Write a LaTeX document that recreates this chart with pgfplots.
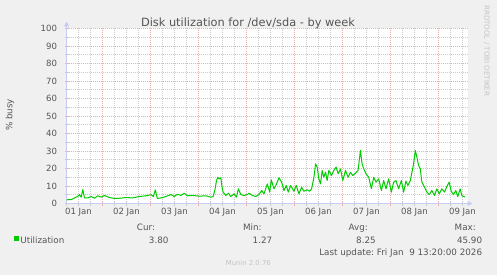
\documentclass[border=0pt]{standalone}
\usepackage{pgfplots}
\pgfplotsset{compat=1.18}
\usepackage{fontspec}
\setmainfont{DejaVu Sans}
\usetikzlibrary{arrows.meta}
\definecolor{bgcol}{HTML}{F0F0F0}
\definecolor{txt}{HTML}{555555}
\definecolor{light}{HTML}{C4C4C4}
\definecolor{mgrid}{HTML}{EDB0B0}
\definecolor{mingrid}{HTML}{CCCCCC}
\definecolor{axiscol}{HTML}{C8CCF0}
\definecolor{util}{HTML}{00CC00}
\begin{document}
\begin{tikzpicture}[x=1bp,y=1bp]
\fill[bgcol] (0,0) rectangle (497,275);
\begin{axis}[
  at={(66.5bp,71.5bp)}, anchor=south west,
  scale only axis, width=401bp, height=175bp,
  xmin=6, xmax=206.5, ymin=0, ymax=100,
  axis background/.style={fill=white},
  axis x line*=bottom, axis y line*=left,
  axis line style={draw=axiscol, line width=0.9bp},
  x axis line style={-{Triangle[length=5bp,width=5bp]}, shorten >=-5bp},
  y axis line style={-{Triangle[length=5bp,width=5bp]}, shorten >=-7bp},
  ytick={0,10,...,100},
  minor ytick={5,15,...,95},
  xtick={24,48,...,192},
  xticklabels={{},{},{},{},{},{},{},{}},
  minor xtick={6,12,18,30,36,42,54,60,66,78,84,90,102,108,114,126,132,138,150,156,162,174,180,186,198,204},
  extra x ticks={12,36,60,84,108,132,156,180,204},
  extra x tick labels={01 Jan,02 Jan,03 Jan,04 Jan,05 Jan,06 Jan,07 Jan,08 Jan,09 Jan},
  extra x tick style={grid=none, major tick length=0pt},
  grid=both,
  major grid style={draw=mgrid, line width=0.7bp, dash pattern=on 1bp off 1bp},
  minor grid style={draw=mingrid, line width=0.7bp, dash pattern=on 1bp off 1bp},
  major tick length=4bp, minor tick length=4bp, tick align=center,
  major tick style={draw=mgrid, line width=0.7bp},
  minor tick style={draw=mingrid, line width=0.7bp},
  /pgf/number format/assume math mode=true,
  tick label style={font=\fontsize{8.6}{10}\selectfont, text=txt},
  yticklabel style={anchor=east, xshift=-4bp},
  xticklabel style={yshift=-1bp},
  clip=true,
]
\addplot[util, line width=1bp, line join=round] coordinates {
(6.03,2.1) (8.53,2.3) (10.02,3.2) (11.52,4.0) (12.51,5.1) (13.36,3.6) (14.16,8.0) (15.01,3.2)
(16.65,3.2) (18.35,4.0) (19.99,3.0) (21.64,4.4) (23.33,3.6) (24.98,4.6) (27.47,3.4) (29.96,2.9)
(32.46,3.0) (35.80,3.4) (39.09,3.2) (42.43,4.0) (45.77,4.4) (48.26,5.0) (49.41,4.0) (50.41,7.8)
(51.40,2.9) (53.25,3.2) (55.74,4.0) (58.24,5.1) (59.88,4.0) (61.53,5.3) (63.22,4.6) (64.87,5.9)
(66.36,4.4) (69.01,4.6) (72.35,4.2) (75.69,4.4) (78.18,3.6) (79.33,4.0) (80.32,8.4) (80.97,13.0)
(81.67,15.0) (82.32,14.0) (83.17,14.7) (83.67,10.0) (84.31,6.5) (85.66,4.6) (86.96,5.9) (88.15,4.0)
(89.80,5.5) (90.94,3.6) (91.94,8.4) (93.14,5.1) (94.78,4.6) (96.43,5.1) (97.28,5.9) (98.92,4.6)
(100.62,4.0) (102.26,5.1) (103.61,7.4) (104.75,5.5) (106.40,11.2) (107.60,6.5) (108.39,13.5) (109.74,8.4)
(110.89,10.9) (112.23,14.7) (113.58,12.2) (114.73,7.4) (115.87,10.3) (116.87,6.5) (118.07,10.3) (119.71,7.0)
(120.86,10.3) (122.21,5.5) (123.55,9.3) (124.70,7.0) (126.35,7.8) (127.54,7.0) (128.54,8.4) (129.68,14.7)
(130.53,22.7) (131.33,20.8) (132.17,14.1) (133.02,11.2) (133.82,18.9) (134.67,15.0) (135.52,17.9) (136.32,13.1)
(137.17,18.9) (138.51,16.0) (139.66,18.9) (140.81,20.8) (141.80,17.0) (143.00,19.8) (144.14,13.1) (145.49,18.9)
(146.79,15.0) (147.98,17.9) (149.13,16.0) (150.48,17.3) (151.77,18.9) (152.97,30.3) (153.77,22.7) (154.62,19.8)
(155.76,17.0) (157.11,15.0) (158.45,8.4) (159.60,15.0) (160.75,12.2) (162.09,14.1) (163.44,7.4) (164.59,13.1)
(165.73,8.4) (167.08,14.1) (168.43,6.5) (169.57,12.2) (170.72,13.1) (172.07,8.4) (173.41,13.1) (174.56,6.5)
(175.71,12.8) (176.70,10.3) (177.90,13.1) (179.55,22.7) (180.39,30.3) (181.19,26.5) (182.04,21.7) (182.89,19.8)
(183.68,12.2) (185.03,9.3) (186.18,6.5) (187.37,5.1) (188.67,7.4) (190.02,4.6) (191.16,8.4) (192.36,5.5)
(193.66,8.4) (195.00,6.5) (196.15,9.7) (197.35,12.2) (198.34,7.0) (199.49,5.1) (200.64,7.4) (201.63,4.0)
(202.83,8.4) (203.63,4.6) (204.47,4.0) (205.32,3.8)
};
\end{axis}
\begin{scope}[every node/.style={inner sep=0pt, text=txt, font=\fontsize{8.8}{10}\selectfont}]
\node[anchor=base, font=\fontsize{11.4}{13}\selectfont] at (248,248.3) {Disk utilization for /dev/sda - by week};
\node[rotate=90, anchor=center] at (10,160) {\% busy};
\node[anchor=base] at (146,44.3) {Cur:};
\node[anchor=base] at (252.3,44.3) {Min:};
\node[anchor=base] at (358.3,44.3) {Avg:};
\node[anchor=base east] at (476,44.3) {Max:};
\fill[util] (14.3,34) rectangle (19.3,39);
\node[anchor=base west] at (20.2,31.7) {Utilization};
\node[anchor=base] at (158.7,31.7) {3.80};
\node[anchor=base] at (262.5,31.7) {1.27};
\node[anchor=base] at (366,31.7) {8.25};
\node[anchor=base east] at (482.3,31.7) {45.90};
\node[anchor=base east] at (482.3,20) {Last update:\ Fri Jan\ \ 9 13:20:00 2026};
\node[anchor=base, text=light, font=\fontsize{6.9}{8}\selectfont] at (248.3,9.3) {Munin 2.0.76};
\node[anchor=west, rotate=-90, text=light, font=\fontsize{7.1}{8}\selectfont] at (486.7,270) {RRDTOOL / TOBI OETIKER};
\end{scope}
\pgfresetboundingbox
\useasboundingbox (0,0) rectangle (497,275);
\end{tikzpicture}
\end{document}
